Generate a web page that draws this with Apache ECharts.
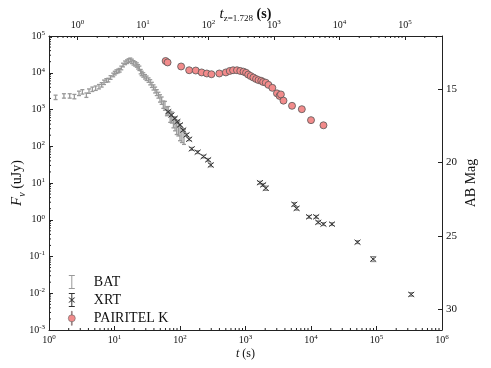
<!DOCTYPE html>
<html>
<head>
<meta charset="utf-8">
<script src="https://cdn.jsdelivr.net/npm/echarts@6/dist/echarts.min.js"></script>
<style>
  html, body { margin: 0; padding: 0; background: #fff; }
  #main { width: 491px; height: 368px; }
</style>
</head>
<body>
<div id="main"></div>
<script>
// redshift used for the rest-frame (top) axis
const redshift = 1.728;

// BAT: time (s), flux (uJy), error (dex)
const batT = [1.26, 1.69, 2.07, 2.44, 2.87, 3.23, 3.72, 4.08, 4.59, 5.16, 5.79, 6.37, 6.92, 7.50, 8.04,
  8.71, 9.55, 10.1, 10.7, 11.4, 12.0, 12.7, 13.5, 14.5, 15.5, 16.4, 17.4, 18.4, 19.5, 20.7,
  21.9, 22.9, 24.0, 25.1, 26.0, 27.5, 29.2, 30.9, 33.1, 35.1, 37.2, 39.4, 41.7, 44.2, 46.8,
  49.5, 52.5, 55.6, 58.9, 63.1, 66.1, 70.8, 75.0, 79.4, 84.1, 89.1, 94.4, 100, 107, 115];
const batF = [2140, 2340, 2340, 2240, 2750, 3020, 2450, 3160, 3550, 3800, 4170, 4680, 5500, 6170, 6310,
  7410, 8710, 9770, 10700, 11200, 11700, 13500, 16200, 18600, 20000, 21400, 22400, 20400, 18600, 17400,
  16200, 14500, 13200, 10700, 9550, 8710, 7760, 7080, 6310, 5500, 4680, 3980, 3390, 2880, 2450,
  2000, 1740, 1350, 1260, 891, 912, 631, 603, 447, 398, 316, 302, 224, 200, 178];
const batErr = [0.06, 0.06, 0.06, 0.06, 0.06, 0.06, 0.06, 0.06, 0.06, 0.06, 0.06, 0.06, 0.06, 0.05, 0.05,
  0.05, 0.05, 0.05, 0.05, 0.05, 0.05, 0.05, 0.05, 0.05, 0.05, 0.05, 0.05, 0.06, 0.06, 0.06,
  0.06, 0.06, 0.06, 0.06, 0.06, 0.06, 0.06, 0.06, 0.06, 0.07, 0.07, 0.07, 0.08, 0.08, 0.08,
  0.1, 0.1, 0.1, 0.12, 0.12, 0.12, 0.15, 0.15, 0.15, 0.18, 0.18, 0.2, 0.2, 0.2, 0.2];

// XRT
const xrtT = [66.1, 74.1, 83.2, 91.2, 100, 112, 126, 138, 151, 186, 229, 269, 295,
  1660, 1860, 2040, 5560, 6030, 9330, 12000, 12900, 15500, 20900, 51300, 89100, 339000];
const xrtF = [871, 708, 575, 468, 380, 275, 204, 155, 85, 69, 52.5, 42.7, 30.9,
  10.2, 8.9, 7.2, 2.63, 2.04, 1.20, 1.20, 0.85, 0.76, 0.76, 0.245, 0.085, 0.0093];
const xrtErr = [0.04, 0.04, 0.04, 0.04, 0.04, 0.04, 0.04, 0.04, 0.04, 0.04, 0.04, 0.04, 0.05,
  0.04, 0.04, 0.06, 0.05, 0.05, 0.04, 0.04, 0.04, 0.04, 0.04, 0.04, 0.07, 0.05];

// PAIRITEL K
const ptelT = [60.3, 64.6, 104, 138, 174, 214, 257, 302, 398, 501, 575, 646, 741, 832, 933, 1020, 1100,
  1200, 1320, 1450, 1580, 1740, 1860, 2040, 2240, 2570, 3020, 3310, 3470, 3800, 5130, 7240, 10000, 15500];
const ptelF = [20900, 19100, 14800, 11700, 11500, 10200, 9550, 9120, 9550, 10200, 11200, 11700, 11700,
  11200, 10700, 10000, 8910, 8130, 7410, 6760, 6310, 6030, 5620, 5370, 4680, 3890, 2750, 2340, 2570,
  1740, 1260, 1020, 513, 372];

// axis ranges
const tMin = 1, tMax = 1e6;
const fMin = 1e-3, fMax = 1e5;

function errRows(t, f, e) {
  return t.map((v, i) => [v, f[i] / Math.pow(10, e[i]), f[i] * Math.pow(10, e[i]), f[i]]);
}

function minorTicks(lo, hi) {
  const out = [];
  for (let e = Math.floor(Math.log10(lo)); e < Math.ceil(Math.log10(hi)); e++) {
    for (let k = 2; k <= 9; k++) {
      const v = k * Math.pow(10, e);
      if (v > lo && v < hi) out.push(v);
    }
  }
  return out;
}

const serif = 'Liberation Serif';
const powRich = {
  b: { fontFamily: serif, fontSize: 10, color: '#111', lineHeight: 13 },
  s: { fontFamily: serif, fontSize: 7, color: '#111', lineHeight: 7, verticalAlign: 'top' }
};
function powLabel(v) {
  const e = Math.round(Math.log10(v));
  return '{b|10}{s|' + e + '}';
}

function errorBar(color, cap, cross, width) {
  return function (params, api) {
    const lo = api.coord([api.value(0), api.value(1)]);
    const hi = api.coord([api.value(0), api.value(2)]);
    const mid = api.coord([api.value(0), api.value(3)]);
    const st = { stroke: color, lineWidth: width };
    const kids = [
      { type: 'line', shape: { x1: lo[0], y1: lo[1], x2: hi[0], y2: hi[1] }, style: st },
      { type: 'line', shape: { x1: lo[0] - cap, y1: lo[1], x2: lo[0] + cap, y2: lo[1] }, style: st },
      { type: 'line', shape: { x1: hi[0] - cap, y1: hi[1], x2: hi[0] + cap, y2: hi[1] }, style: st }
    ];
    if (cross) {
      const c = { stroke: cross, lineWidth: 1 };
      kids.push({ type: 'line', shape: { x1: mid[0] - 3, y1: mid[1] - 2.5, x2: mid[0] + 3, y2: mid[1] + 2.5 }, style: c });
      kids.push({ type: 'line', shape: { x1: mid[0] - 3, y1: mid[1] + 2.5, x2: mid[0] + 3, y2: mid[1] - 2.5 }, style: c });
    }
    return { type: 'group', children: kids };
  };
}

// little minor ticks drawn on the frame edges
function tickMarks(dir) {
  return function (params, api) {
    const cs = params.coordSys;
    const len = 2;
    if (dir === 'bottom') {
      const x = api.coord([api.value(0), 1])[0];
      return { type: 'line', shape: { x1: x, y1: cs.y + cs.height, x2: x, y2: cs.y + cs.height - len }, style: { stroke: '#222', lineWidth: 1 } };
    }
    if (dir === 'top') {
      const x = api.coord([api.value(0), 1])[0];
      return { type: 'line', shape: { x1: x, y1: cs.y, x2: x, y2: cs.y + len }, style: { stroke: '#222', lineWidth: 1 } };
    }
    const y = api.coord([1, api.value(1)])[1];
    return { type: 'line', shape: { x1: cs.x, y1: y, x2: cs.x + len, y2: y }, style: { stroke: '#222', lineWidth: 1 } };
  };
}

const axisLine = { show: true, lineStyle: { color: '#222', width: 1 } };
const tick = { show: true, inside: true, length: 4, lineStyle: { color: '#222' } };

const chart = echarts.init(document.getElementById('main'));
chart.setOption({
  animation: false,
  backgroundColor: '#fff',
  grid: { left: 49, right: 49, top: 36, bottom: 38, outerBoundsMode: 'none' },
  legend: {
    orient: 'vertical',
    left: 63,
    top: 270,
    itemWidth: 10,
    itemHeight: 14,
    itemGap: 4,
    textStyle: { fontFamily: serif, fontSize: 14, color: '#111', padding: [0, 0, 0, 12] },
    data: [
      { name: 'BAT', icon: 'path://M4.5,0H5.5V14H4.5Z M2,0H8V1H2Z M2,13H8V14H2Z', itemStyle: { color: '#999' } },
      { name: 'XRT', icon: 'path://M4.5,0H5.5V14H4.5Z M2,0H8V1H2Z M2,13H8V14H2Z M1.5,4.5H2.8L8.5,9.5H7.2Z M7.2,4.5H8.5L2.8,9.5H1.5Z', itemStyle: { color: '#333' } },
      { name: 'PAIRITEL K', icon: 'path://M4.6,0H5.4V3.5H4.6Z M4.6,10.5H5.4V14H4.6Z M5,3.5A3.5,3.5 0 1 1 4.99,3.5Z', itemStyle: { color: '#f28b8b', borderColor: '#666', borderWidth: 0.6 } }
    ]
  },
  xAxis: [
    {
      type: 'log', min: tMin, max: tMax, position: 'bottom',
      axisLine: axisLine, axisTick: tick, splitLine: { show: false },
      axisLabel: { formatter: powLabel, rich: powRich, margin: 4 },
      name: '{i|t}{n| (s)}', nameLocation: 'middle', nameGap: 18, nameMoveOverlap: false,
      nameTextStyle: { rich: {
        i: { fontFamily: serif, fontStyle: 'italic', fontSize: 12, color: '#111' },
        n: { fontFamily: serif, fontSize: 12, color: '#111' } } }
    },
    {
      type: 'log', min: tMin / (1 + redshift), max: tMax / (1 + redshift), position: 'top',
      axisLine: axisLine, axisTick: tick, splitLine: { show: false },
      axisLabel: { formatter: powLabel, rich: powRich, margin: 4, showMinLabel: false, showMaxLabel: false },
      name: '{i|t}{sub|z=1.728}{n| (s)}', nameLocation: 'middle', nameGap: 13, nameMoveOverlap: false,
      nameTextStyle: { rich: {
        i: { fontFamily: serif, fontStyle: 'italic', fontSize: 15, color: '#111', lineHeight: 18 },
        sub: { fontFamily: serif, fontSize: 9, color: '#111', lineHeight: 9, verticalAlign: 'bottom' },
        n: { fontFamily: serif, fontSize: 14, fontWeight: 'bold', color: '#111', lineHeight: 18 } } }
    }
  ],
  yAxis: [
    {
      type: 'log', min: fMin, max: fMax, position: 'left',
      axisLine: axisLine, axisTick: tick, splitLine: { show: false },
      axisLabel: { formatter: powLabel, rich: powRich, margin: 4 },
      name: '{i|F}{sub|ν}{n| (uJy)}', nameLocation: 'middle', nameGap: 22, nameRotate: 90, nameMoveOverlap: false,
      nameTextStyle: { rich: {
        i: { fontFamily: serif, fontStyle: 'italic', fontSize: 15, color: '#111', lineHeight: 20 },
        sub: { fontFamily: serif, fontStyle: 'italic', fontSize: 10, color: '#111', lineHeight: 10, verticalAlign: 'bottom' },
        n: { fontFamily: serif, fontSize: 14, color: '#111', lineHeight: 20 } } }
    },
    {
      type: 'value', inverse: true, position: 'right',
      min: 23.9 - 2.5 * Math.log10(fMax), max: 23.9 - 2.5 * Math.log10(fMin),
      axisLine: axisLine, axisTick: tick, splitLine: { show: false },
      axisLabel: { fontFamily: serif, fontSize: 11, color: '#111', margin: 4, showMinLabel: false, showMaxLabel: false },
      name: 'AB Mag', nameLocation: 'middle', nameGap: 22, nameRotate: 90, nameMoveOverlap: false,
      nameTextStyle: { fontFamily: serif, fontSize: 14, color: '#111' }
    }
  ],
  series: [
    { type: 'custom', silent: true, xAxisIndex: 0, yAxisIndex: 0, renderItem: tickMarks('bottom'),
      data: minorTicks(tMin, tMax).map(v => [v, 1]) },
    { type: 'custom', silent: true, xAxisIndex: 1, yAxisIndex: 0, renderItem: tickMarks('top'),
      data: minorTicks(tMin / (1 + redshift), tMax / (1 + redshift)).map(v => [v, 1]) },
    { type: 'custom', silent: true, xAxisIndex: 0, yAxisIndex: 0, renderItem: tickMarks('left'),
      data: minorTicks(fMin, fMax).map(v => [1, v]) },
    { name: 'BAT', type: 'custom', xAxisIndex: 0, yAxisIndex: 0, itemStyle: { color: '#999' },
      renderItem: errorBar('#999', 2, null, 1.3), data: errRows(batT, batF, batErr) },
    { name: 'XRT', type: 'custom', xAxisIndex: 0, yAxisIndex: 0, itemStyle: { color: '#333' },
      renderItem: errorBar('#888', 2.5, '#333', 1), data: errRows(xrtT, xrtF, xrtErr) },
    { name: 'PAIRITEL K', type: 'scatter', xAxisIndex: 0, yAxisIndex: 0, symbol: 'circle', symbolSize: 7,
      itemStyle: { color: '#f28b8b', borderColor: '#555', borderWidth: 0.8, opacity: 1 },
      data: ptelT.map((t, i) => [t, ptelF[i]]) }
  ]
});
</script>
</body>
</html>
